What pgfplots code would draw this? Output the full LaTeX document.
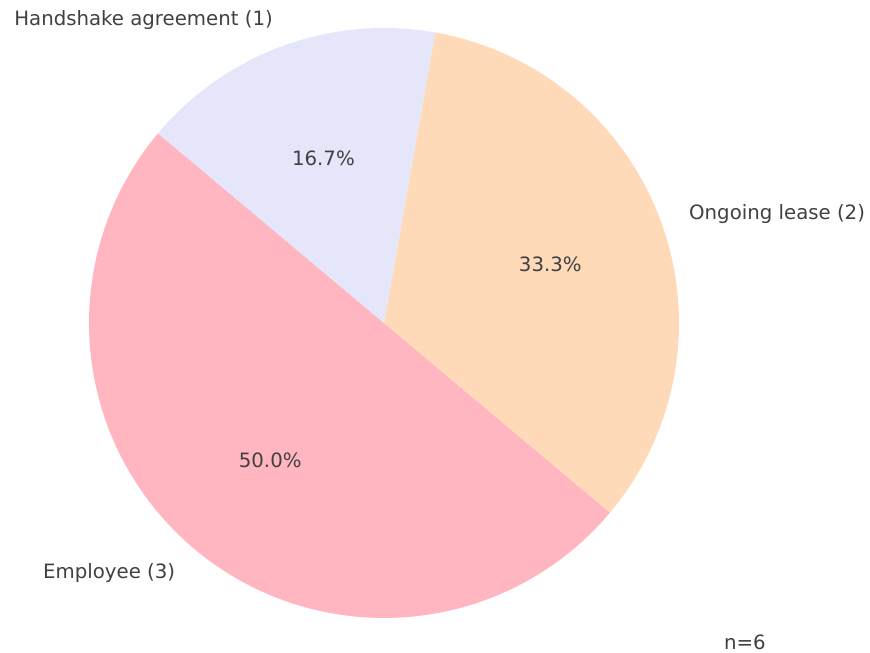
\documentclass[border=0pt]{standalone}
\usepackage{pgfplots}
\pgfplotsset{compat=1.18}
\usepackage{fontspec}
\setmainfont{DejaVu Sans}
\definecolor{cEmp}{HTML}{FFB6C1}
\definecolor{cOng}{HTML}{FFDAB9}
\definecolor{cHand}{HTML}{E6E6FA}
\definecolor{txt}{HTML}{404040}
\tikzset{lbl/.style={font=\fontsize{14.8}{17}\selectfont, text=txt, inner sep=0pt, yshift=-1.5pt}}
\def\vE{3}\def\vO{2}\def\vH{1}
\pgfmathsetmacro\tot{\vE+\vO+\vH}
\pgfmathsetmacro\aA{140}
\pgfmathsetmacro\aB{\aA+360*\vE/\tot}
\pgfmathsetmacro\aC{\aB+360*\vO/\tot}
\pgfmathsetmacro\aD{\aC+360*\vH/\tot}
\begin{document}
\begin{tikzpicture}
\begin{axis}[
  x=221.25pt, y=221.25pt,
  xmin=-1.3017, xmax=1.6475, ymin=-1.1153, ymax=1.0949,
  hide axis, clip=false, scale only axis,
]
\addplot[fill=cEmp, draw=none, domain=\aA:\aB, samples=120, variable=\t] ({cos(t)},{sin(t)}) -- (axis cs:0,0) -- cycle;
\addplot[fill=cOng, draw=none, domain=\aB:\aC, samples=90, variable=\t] ({cos(t)},{sin(t)}) -- (axis cs:0,0) -- cycle;
\addplot[fill=cHand, draw=none, domain=\aC:\aD, samples=60, variable=\t] ({cos(t)},{sin(t)}) -- (axis cs:0,0) -- cycle;
\node[lbl, anchor=east] at (axis cs:-0.3762,1.0337) {Handshake agreement (1)};
\node[lbl, anchor=west] at (axis cs:1.0337,0.3762) {Ongoing lease (2)};
\node[lbl, anchor=east] at (axis cs:-0.7071,-0.8426) {Employee (3)};
\node[lbl] at (axis cs:-0.2052,0.5638) {16.7\%};
\node[lbl] at (axis cs:0.5638,0.2052) {33.3\%};
\node[lbl] at (axis cs:-0.3857,-0.4596) {50.0\%};
\node[lbl] at (axis cs:1.2237,-1.0746) {n=6};
\end{axis}
\pgfresetboundingbox
\path (current axis.south west) rectangle (current axis.north east);
\end{tikzpicture}
\end{document}
